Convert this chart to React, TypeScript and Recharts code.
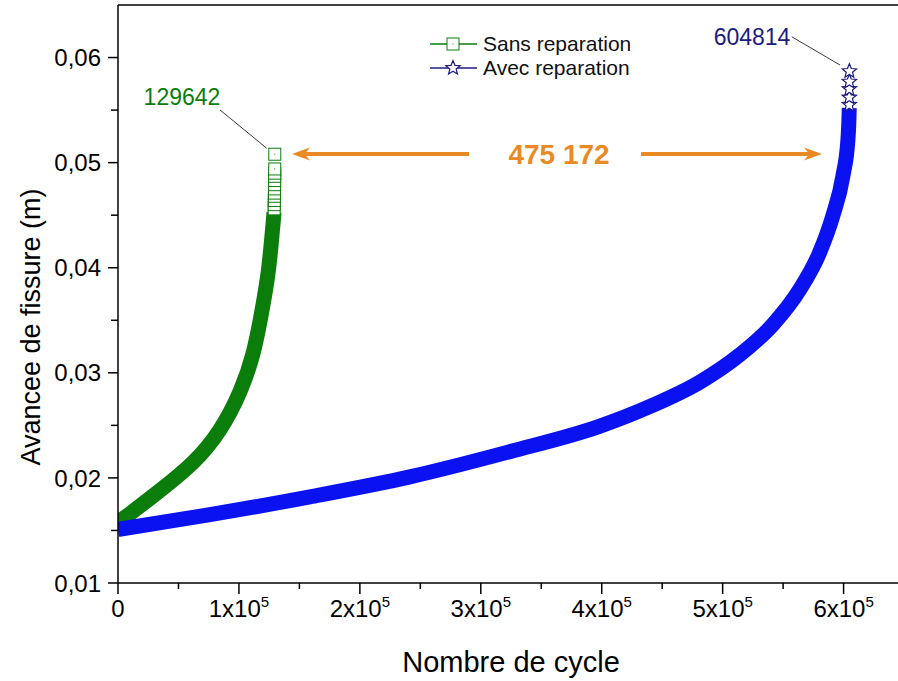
import React from 'react';
import {
  ComposedChart, Line, Scatter, XAxis, YAxis, ReferenceLine, ReferenceDot, Legend,
} from 'recharts';

const FONT = '"Liberation Sans", Arial, sans-serif';
const GREEN = '#0b7d0b';
const BLUE = '#0a12f2';
const NAVY = '#1c1c80';
const ORANGE = '#ea8a25';

// Sans reparation (dense part of the curve)
const greenCycles = [0, 9900, 34700, 62300, 84300, 100800, 111800, 118700, 124200, 127500, 128700, 129000];
const greenCrack = [0.0158, 0.0166, 0.0188, 0.0215, 0.0246, 0.0282, 0.0319, 0.0357, 0.0396, 0.0433, 0.0448, 0.0453];
// Sans reparation (last, sparse points)
const greenTailCycles = [129130, 129210, 129280, 129340, 129390, 129440, 129480, 129520, 129550, 129580, 129600, 129642];
const greenTailCrack = [0.0456, 0.046, 0.0464, 0.0468, 0.0471, 0.0475, 0.0479, 0.0483, 0.0487, 0.049, 0.0494, 0.0508];

// Avec reparation (dense part)
const blueCycles = [0, 76000, 158700, 241300, 324000, 398000, 440000, 481000, 514000, 541600, 563600, 580000, 591000, 599400, 603600, 604400, 604700];
const blueCrack = [0.0151, 0.0165, 0.0182, 0.0201, 0.0225, 0.0249, 0.0268, 0.0291, 0.0317, 0.0346, 0.0379, 0.0414, 0.0449, 0.0487, 0.0522, 0.054, 0.0552];
// Avec reparation (last points)
const blueTailCycles = [604700, 604730, 604760, 604790, 604814];
const blueTailCrack = [0.0555, 0.0562, 0.057, 0.0577, 0.0587];

const xTicks = [0, 50000, 100000, 150000, 200000, 250000, 300000, 350000, 400000, 450000, 500000, 550000, 600000];
const yTicks = [0.01, 0.015, 0.02, 0.025, 0.03, 0.035, 0.04, 0.045, 0.05, 0.055, 0.06];

const sansLabel = 'Sans reparation';
const avecLabel = 'Avec reparation';
const sansEnd = '129642';
const avecEnd = '604814';
const diffLabel = '475 172';

const zip = (xs: number[], ys: number[]) => xs.map((x, i) => ({ x, y: ys[i] }));
const greenData = zip(greenCycles, greenCrack);
const greenTail = zip(greenTailCycles, greenTailCrack);
const blueData = zip(blueCycles, blueCrack);
const blueTail = zip(blueTailCycles, blueTailCrack);

const XTick = (p: any) => {
  const { x, y, payload } = p;
  const v = payload.value as number;
  const major = v % 100000 === 0;
  return (
    <g>
      <line x1={x} y1={y} x2={x} y2={y + (major ? 11 : 6)} stroke="#000" strokeWidth={1.5} />
      {major && (
        v === 0 ? (
          <text x={x} y={y + 34} textAnchor="middle" fontSize={24} fontFamily={FONT} fill="#000">0</text>
        ) : (
          <text x={x} y={y + 34} textAnchor="middle" fontSize={24} fontFamily={FONT} fill="#000">
            {`${v / 100000}x10`}
            <tspan dy={-10} fontSize={15}>5</tspan>
          </text>
        )
      )}
    </g>
  );
};

const YTick = (p: any) => {
  const { x, y, payload } = p;
  const v = payload.value as number;
  const major = Math.abs(v * 100 - Math.round(v * 100)) < 1e-6;
  return (
    <g>
      <line x1={x} y1={y} x2={x - (major ? 10 : 7)} y2={y} stroke="#000" strokeWidth={1.5} />
      {major && (
        <text x={x - 17} y={y} dy="0.36em" textAnchor="end" fontSize={24} fontFamily={FONT} fill="#000">
          {v.toFixed(2).replace('.', ',')}
        </text>
      )}
    </g>
  );
};

const SquareShape = (p: any) => {
  const { cx, cy } = p;
  return (
    <g>
      <rect x={cx - 6} y={cy - 6} width={12} height={12} fill="#fff" stroke={GREEN} strokeWidth={1} />
      <rect x={cx - 0.5} y={cy - 0.5} width={1} height={1} fill={GREEN} />
    </g>
  );
};

const starPoints = (cx: number, cy: number, ro: number, ri: number) => {
  const pts: string[] = [];
  for (let i = 0; i < 10; i++) {
    const r = i % 2 === 0 ? ro : ri;
    const a = -Math.PI / 2 + (i * Math.PI) / 5;
    pts.push(`${cx + r * Math.cos(a)},${cy + r * Math.sin(a)}`);
  }
  return pts.join(' ');
};

const StarShape = (p: any) => {
  const { cx, cy } = p;
  return <polygon points={starPoints(cx, cy, 7.5, 3.3)} fill="#fff" stroke={NAVY} strokeWidth={1.2} />;
};

const Arrow = (p: any) => {
  const { x1, y1, x2, y2 } = p;
  const dir = Math.sign(x2 - x1);
  const L = 18;
  const W = 6.5;
  return (
    <g>
      <line x1={x1} y1={y1} x2={x2 - dir * L * 0.6} y2={y2} stroke={ORANGE} strokeWidth={4} />
      <polygon
        points={`${x2},${y2} ${x2 - dir * L},${y2 - W} ${x2 - dir * L * 0.7},${y2} ${x2 - dir * L},${y2 + W}`}
        fill={ORANGE}
      />
    </g>
  );
};

const textShape = (label: string, color: string, size: number, bold = false) => (p: any) => (
  <text x={p.cx} y={p.cy} dy="0.36em" textAnchor="middle" fontSize={size} fontFamily={FONT}
    fontWeight={bold ? 'bold' : 'normal'} fill={color}>
    {label}
  </text>
);

const LegendContent = () => (
  <div style={{ fontFamily: FONT, fontSize: 21, color: '#111', lineHeight: '24px' }}>
    <div style={{ display: 'flex', alignItems: 'center', height: 24 }}>
      <svg width={48} height={24}>
        <line x1={0} y1={12} x2={47} y2={12} stroke={GREEN} strokeWidth={1.3} />
        <rect x={17} y={6} width={12} height={12} fill="#fff" stroke={GREEN} strokeWidth={1} />
        <rect x={22.5} y={11.5} width={1} height={1} fill={GREEN} />
      </svg>
      <span style={{ marginLeft: 5 }}>{sansLabel}</span>
    </div>
    <div style={{ display: 'flex', alignItems: 'center', height: 24 }}>
      <svg width={48} height={24}>
        <line x1={0} y1={12} x2={47} y2={12} stroke={NAVY} strokeWidth={1.3} />
        <polygon points={starPoints(23, 12, 7.5, 3.3)} fill="#fff" stroke={NAVY} strokeWidth={1.2} />
      </svg>
      <span style={{ marginLeft: 5 }}>{avecLabel}</span>
    </div>
  </div>
);

export default function App() {
  return (
    <div style={{ position: 'absolute', left: 0, top: 0, width: 898, height: 681, background: '#fff' }}>
      <ComposedChart width={898} height={681} margin={{ top: 5, right: 0, bottom: 38, left: 0 }}>
        <XAxis
          type="number"
          dataKey="x"
          domain={[0, 645000]}
          allowDataOverflow
          ticks={xTicks}
          interval={0}
          tickSize={0}
          tickMargin={0}
          tickLine={false}
          tick={<XTick />}
          height={60}
          axisLine={{ stroke: '#000', strokeWidth: 1.5 }}
          label={{
            content: (lp: any) => {
              const vb = lp.viewBox || { x: 118, y: 583, width: 780 };
              return (
                <text x={vb.x + vb.width / 2 + 3} y={vb.y + 79} dy="0.36em" textAnchor="middle"
                  fontSize={29} fontFamily={FONT} fill="#000">Nombre de cycle</text>
              );
            },
          }}
        />
        <YAxis
          type="number"
          dataKey="y"
          domain={[0.01, 0.065]}
          allowDataOverflow
          ticks={yTicks}
          interval={0}
          tickSize={0}
          tickMargin={0}
          tickLine={false}
          tick={<YTick />}
          width={118}
          axisLine={{ stroke: '#000', strokeWidth: 1.5 }}
          label={{
            content: (lp: any) => {
              const vb = lp.viewBox || { x: 0, y: 5, height: 578 };
              const cx = vb.x + 30;
              const cy = vb.y + vb.height / 2 + 33;
              return (
                <text x={cx} y={cy} dy="0.36em" textAnchor="middle" transform={`rotate(-90 ${cx} ${cy})`}
                  fontSize={27} fontFamily={FONT} fill="#000">Avancee de fissure (m)</text>
              );
            },
          }}
        />
        <ReferenceLine y={0.065} stroke="#000" strokeWidth={1.5} />
        <Line data={greenData} dataKey="y" type="natural" stroke={GREEN} strokeWidth={15} dot={false}
          isAnimationActive={false} name={sansLabel} />
        <Line data={blueData} dataKey="y" type="monotone" stroke={BLUE} strokeWidth={15} dot={false}
          isAnimationActive={false} name={avecLabel} />
        <Scatter data={greenTail} dataKey="y" shape={<SquareShape />} isAnimationActive={false} />
        <Scatter data={blueTail} dataKey="y" shape={<StarShape />} isAnimationActive={false} />

        <ReferenceLine segment={[{ x: 84350, y: 0.05501 }, { x: 122960, y: 0.05137 }]} stroke="#222" strokeWidth={0.9} />
        <ReferenceLine segment={[{ x: 557100, y: 0.06198 }, { x: 597040, y: 0.05929 }]} stroke="#222" strokeWidth={0.9} />
        <ReferenceDot x={52900} y={0.05625} r={0} shape={textShape(sansEnd, GREEN, 23)} />
        <ReferenceDot x={524300} y={0.06196} r={0} shape={textShape(avecEnd, NAVY, 23)} />

        <ReferenceLine segment={[{ x: 290250, y: 0.05082 }, { x: 143900, y: 0.05082 }]} shape={<Arrow />} />
        <ReferenceLine segment={[{ x: 432480, y: 0.05082 }, { x: 582150, y: 0.05082 }]} shape={<Arrow />} />
        <ReferenceDot x={364700} y={0.05082} r={0} shape={textShape(diffLabel, ORANGE, 28, true)} />

        <Legend
          layout="horizontal"
          verticalAlign="middle"
          align="center"
          content={<LegendContent />}
          wrapperStyle={{ left: 430, top: 32, width: 240, height: 48 }}
        />
      </ComposedChart>
    </div>
  );
}
